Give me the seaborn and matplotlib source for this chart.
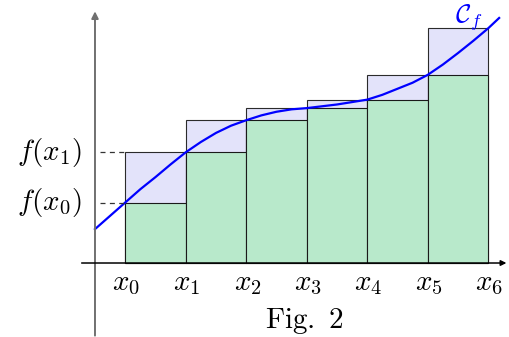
"""Riemann sums: lower and upper rectangles under a curve"""
import matplotlib
matplotlib.use("Agg")
import matplotlib.pyplot as plt
import seaborn as sns
import pandas as pd

# subdivision points x0..x6 and f(x_i)
x_nodes = [0.5, 1.5, 2.5, 3.5, 4.5, 5.5, 6.5]
f_nodes = [1.00, 1.83, 2.36, 2.56, 2.70, 3.11, 3.88]
x_labels = [r"$x_0$", r"$x_1$", r"$x_2$", r"$x_3$", r"$x_4$", r"$x_5$", r"$x_6$"]

# points read along the blue curve C_f
curve_x = [0, 0.25, 0.5, 0.75, 1.0, 1.25, 1.5, 1.75, 2.0, 2.25, 2.5, 2.75, 3.0,
           3.25, 3.5, 3.75, 4.0, 4.25, 4.5, 4.75, 5.0, 5.25, 5.5, 5.75, 6.0,
           6.25, 6.5, 6.68]
curve_y = [0.56, 0.78, 1.00, 1.22, 1.42, 1.63, 1.83, 2.00, 2.15, 2.27, 2.36,
           2.44, 2.50, 2.54, 2.56, 2.59, 2.62, 2.66, 2.70, 2.78, 2.88, 2.98,
           3.11, 3.28, 3.47, 3.67, 3.88, 4.05]

plt.rcParams["mathtext.fontset"] = "cm"

fig = plt.figure(figsize=(5.09, 3.37), dpi=100)
ax = fig.add_axes([0, 0, 1, 1])

mids = [(a + b) / 2 for a, b in zip(x_nodes[:-1], x_nodes[1:])]
bars = pd.DataFrame({"mid": mids, "lower": f_nodes[:-1], "upper": f_nodes[1:]})

# upper sum rectangles, then lower sum rectangles on top
sns.barplot(data=bars, x="mid", y="upper", native_scale=True, width=1,
            color="#e3e3fa", saturation=1, edgecolor="#2b2b2b",
            linewidth=0.8, errorbar=None, ax=ax)
sns.barplot(data=bars, x="mid", y="lower", native_scale=True, width=1,
            color="#b8e9cb", saturation=1, edgecolor="#1a1a1a",
            linewidth=0.8, errorbar=None, ax=ax)

sns.lineplot(x=curve_x, y=curve_y, color="#0000ff", linewidth=1.6,
             sort=False, estimator=None, ax=ax)

# axes drawn by hand
ax.annotate("", xy=(0, 4.16), xytext=(0, -1.2),
            arrowprops=dict(arrowstyle="-|>", color="#707070", lw=1.4,
                            mutation_scale=10, shrinkA=0, shrinkB=0))
ax.annotate("", xy=(6.8, 0), xytext=(-0.22, 0),
            arrowprops=dict(arrowstyle="-|>", color="black", lw=1.1,
                            mutation_scale=8, shrinkA=0, shrinkB=0))

# dashed guides for f(x0), f(x1)
for v in f_nodes[:2]:
    ax.plot([0.08, x_nodes[0]], [v, v], color="#333333", lw=0.9,
            linestyle=(0, (4, 3.5)))
ax.text(-0.22, f_nodes[0], r"$f(x_0)$", fontsize=21, ha="right", va="center")
ax.text(-0.22, f_nodes[1], r"$f(x_1)$", fontsize=21, ha="right", va="center")

for xv, lab in zip(x_nodes, x_labels):
    ax.text(xv + 0.02, -0.33, lab, fontsize=21, ha="center", va="center")

ax.text(6.17, 4.06, r"$\mathcal{C}_f$", fontsize=19, color="#0000ff",
        ha="center", va="center")
ax.text(3.46, -0.96, r"$\mathrm{Fig.\ 2}$", fontsize=21, ha="center",
        va="center")

ax.set_xlim(-1.570, 6.843)
ax.set_ylim(-1.223, 4.347)
ax.axis("off")

fig.savefig("out.png", dpi=100)
